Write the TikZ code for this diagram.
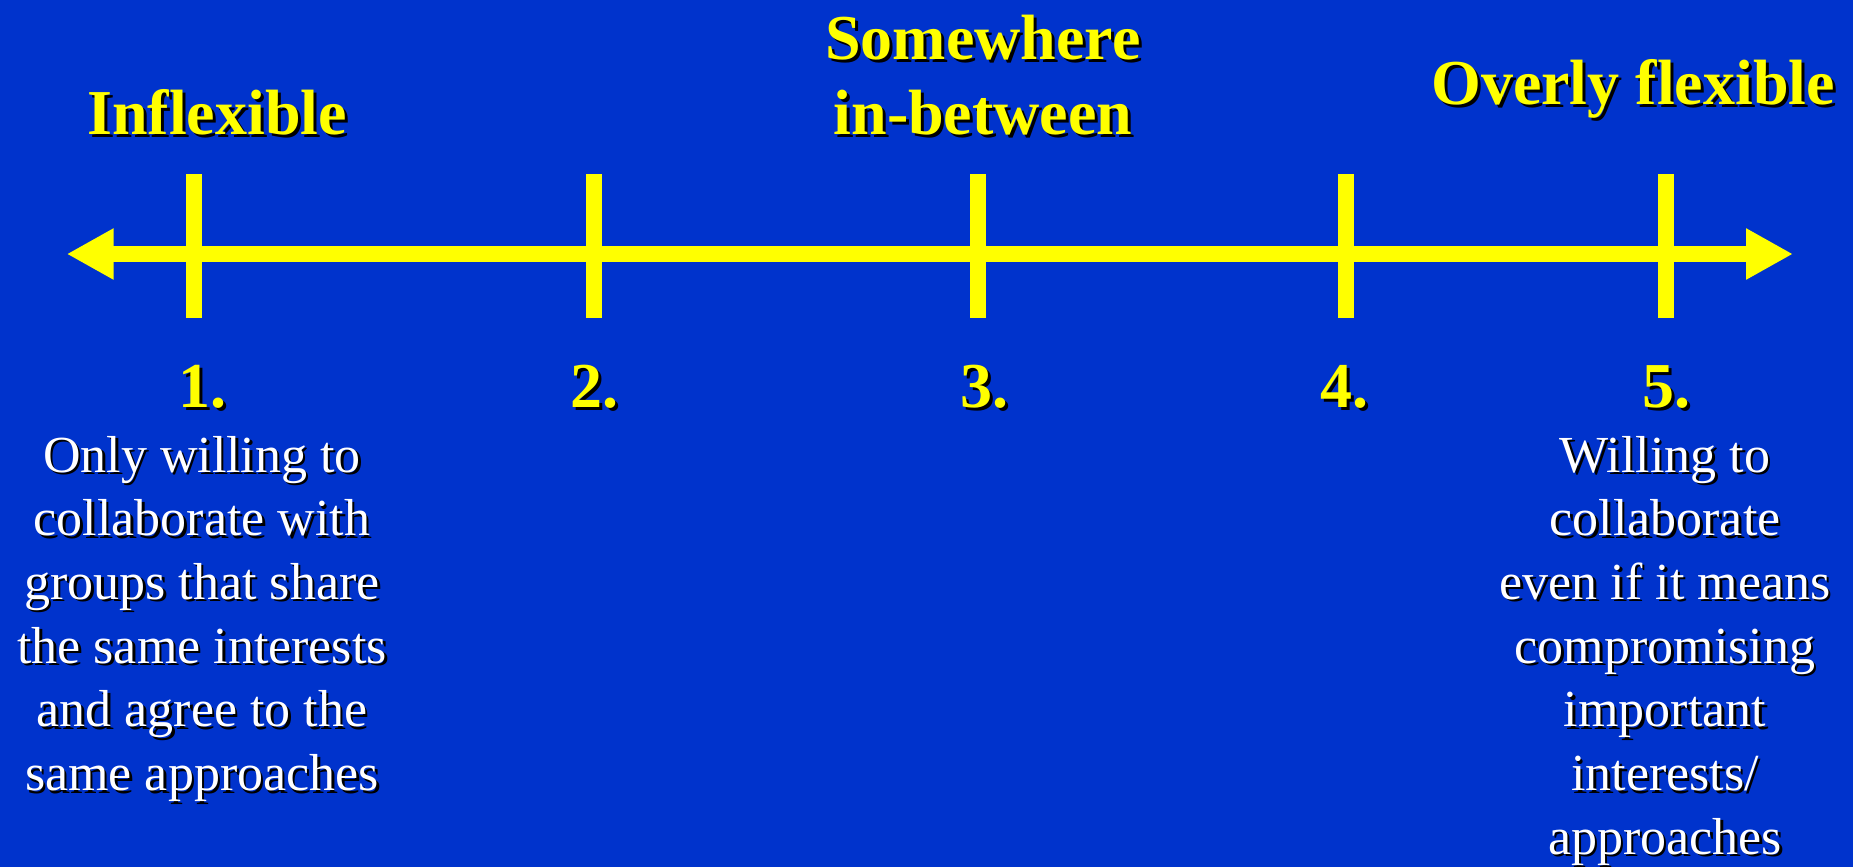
\documentclass[tikz,border=0pt]{standalone}
\usepackage{fontspec}
\setmainfont{Liberation Serif}
\usetikzlibrary{arrows.meta}
\definecolor{bgblue}{RGB}{0,51,204}
\definecolor{ylw}{RGB}{255,255,0}
\newcommand\shtext[6]{%
  \node[#2, text=black] at (#3+#5, #4+#5) {#6};
  \node[#2] (#1) at (#3,#4) {#6};}
\tikzset{
  head/.style={font=\fontsize{64}{75}\selectfont\bfseries, text=ylw, inner sep=0pt, anchor=base, align=center},
  body/.style={font=\fontsize{52}{63.7}\selectfont, text=white, inner sep=0pt, anchor=base, align=center},
  tickline/.style={draw=ylw, line width=16pt},
  axisline/.style={draw=ylw, line width=16pt, arrows={Triangle[length=47pt,width=48pt]-Triangle[length=47pt,width=48pt]}},
}
\begin{document}
\begin{tikzpicture}[x=1pt,y=-1pt]
\fill[bgblue] (0,0) rectangle (1853,867);
\useasboundingbox (0,0) rectangle (1853,867);
% axis
\coordinate (L) at (66.7,254);
\coordinate (R) at (1793,254);
\draw[axisline] (L) -- (R);
% ticks
\foreach \n/\x in {1/194,2/594,3/978,4/1346,5/1666}{
  \coordinate (t\n a) at (\x,174);
  \coordinate (t\n b) at (\x,318);
  \draw[tickline] (t\n a) -- (t\n b);
}
% headings (base anchor = baseline of last line)
\shtext{inflex}{head}{217}{134}{3}{Inflexible}
\shtext{somew}{head}{983}{134}{3}{Somewhere\\in-between}
\shtext{overly}{head}{1633}{104}{3}{Overly flexible}
% numbers
\shtext{n1}{head}{202}{407}{3}{1.}
\shtext{n2}{head}{594}{407}{3}{2.}
\shtext{n3}{head}{984}{407}{3}{3.}
\shtext{n4}{head}{1344}{407}{3}{4.}
\shtext{n5}{head}{1666}{407}{3}{5.}
% descriptions
\shtext{d1}{body}{202}{790.5}{2.5}{Only willing to\\collaborate with\\groups that share\\the same interests\\and agree to the\\same approaches}
\shtext{d5}{body}{1665}{854.2}{2.5}{Willing to\\collaborate\\even if it means\\compromising\\important\\interests/\\approaches}
\end{tikzpicture}
\end{document}
